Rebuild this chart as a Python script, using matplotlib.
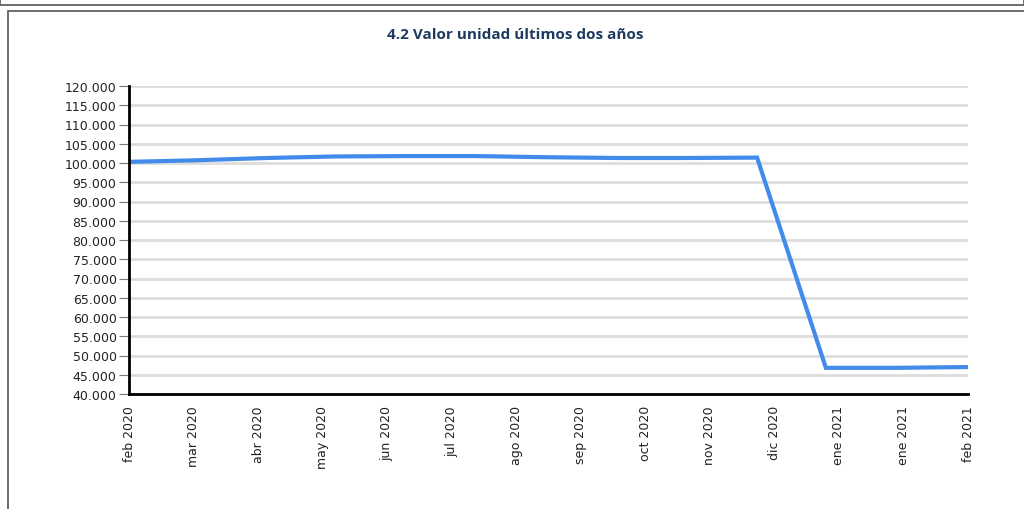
import datetime as dt
import numpy as np
import matplotlib
matplotlib.use("Agg")
import matplotlib.pyplot as plt
import matplotlib.dates as mdates
from matplotlib.ticker import FuncFormatter
from matplotlib.patches import Rectangle

# monthly unit value (first day of each month)
months = [dt.date(2020, m, 1) for m in range(2, 13)] + [dt.date(2021, 1, 1), dt.date(2021, 2, 1)]
values = [100300, 100700, 101300, 101700, 101800, 101800, 101500,
          101300, 101300, 101400, 46800, 46800, 47000]

tick_labels = ["feb 2020", "mar 2020", "abr 2020", "may 2020", "jun 2020", "jul 2020",
               "ago 2020", "sep 2020", "oct 2020", "nov 2020", "dic 2020", "ene 2021",
               "ene 2021", "feb 2021"]

fig = plt.figure(figsize=(10.24, 5.10), dpi=100)

# outer frames of the report page
fig.patches.append(Rectangle((0.0, 1 - 6 / 510), 1.0, 0.02, transform=fig.transFigure,
                             fill=False, edgecolor="#555555", linewidth=1.2))
fig.patches.append(Rectangle((8 / 1024, -0.05), 1.0, 1 - 12 / 510 + 0.05, transform=fig.transFigure,
                             fill=False, edgecolor="#555555", linewidth=1.2))

ax = fig.add_axes([129 / 1024, (510 - 395) / 510, (968 - 129) / 1024, (395 - 87) / 510])

ax.plot(months, values, color="#428bea", linewidth=3, solid_joinstyle="miter", zorder=3)

start = mdates.date2num(months[0])
end = mdates.date2num(months[-1])
ax.set_xlim(start, end)
ax.set_xticks(np.linspace(start, end, len(tick_labels)))
ax.set_xticklabels(tick_labels, rotation=90, fontsize=9, color="#222222")
ax.tick_params(axis="x", length=0, pad=8)

ax.set_ylim(40000, 120000)
ax.set_yticks(np.arange(40000, 120001, 5000))
ax.yaxis.set_major_formatter(FuncFormatter(lambda v, p: f"{int(v):,}".replace(",", ".")))
ax.tick_params(axis="y", labelsize=9, labelcolor="#222222", length=7, color="#777777", pad=2)

ax.grid(axis="y", color="#dddddd", linewidth=2, zorder=0)
for s in ["top", "right"]:
    ax.spines[s].set_visible(False)
ax.spines["left"].set_linewidth(2)
ax.spines["bottom"].set_linewidth(2)
ax.spines["left"].set_zorder(4)
ax.spines["bottom"].set_zorder(4)

fig.text(515 / 1024, 1 - 35 / 510, "4.2 Valor unidad últimos dos años", ha="center", va="center",
         fontsize=11, fontweight="bold", color="#1f3a5f", family="Open Sans")

fig.savefig("out.png", dpi=100)
